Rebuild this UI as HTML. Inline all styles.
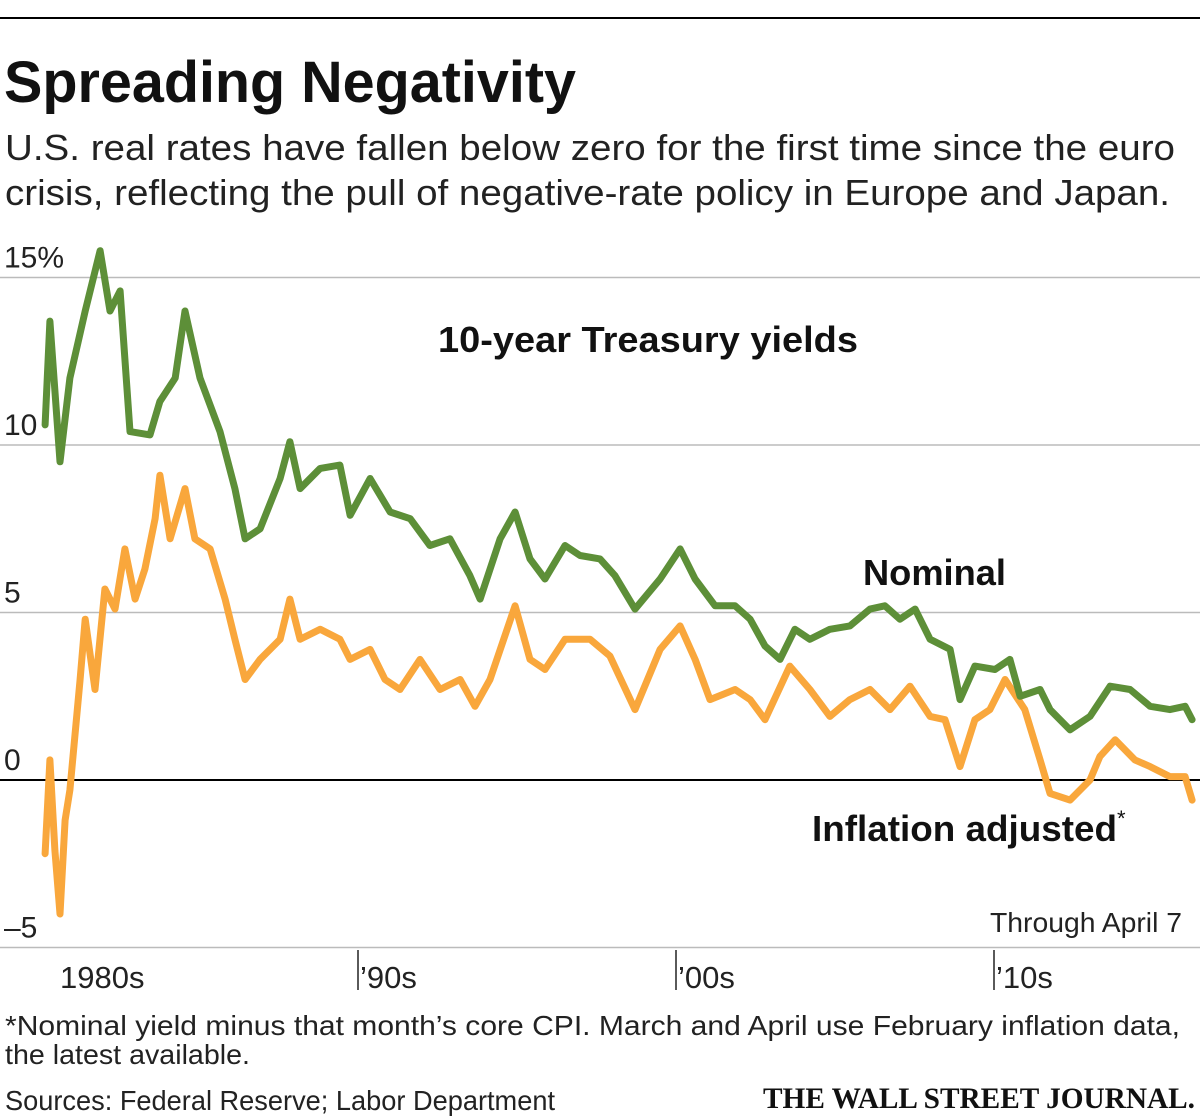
<!DOCTYPE html>
<html><head><meta charset="utf-8"><style>
html,body{margin:0;padding:0;background:#fff;}
svg{display:block;font-family:"Liberation Sans Narrow","Liberation Sans",sans-serif;}
</style></head><body>
<svg id="chart" width="1200" height="1119" viewBox="0 0 1200 1119" xmlns="http://www.w3.org/2000/svg">
<line x1="0" y1="18" x2="1200" y2="18" stroke="#000" stroke-width="2"/>
<text x="4" y="102" font-size="58" font-weight="bold" textLength="572" lengthAdjust="spacingAndGlyphs" fill="#111">Spreading Negativity</text>
<text x="5" y="160" font-size="36" textLength="1170" lengthAdjust="spacingAndGlyphs" fill="#222">U.S. real rates have fallen below zero for the first time since the euro</text>
<text x="5" y="205" font-size="36" textLength="1165" lengthAdjust="spacingAndGlyphs" fill="#222">crisis, reflecting the pull of negative-rate policy in Europe and Japan.</text>
<g id="grid"></g>
<g id="series"></g>
<g id="labels">
<text x="438" y="352" font-size="36" font-weight="bold" textLength="420" lengthAdjust="spacingAndGlyphs" fill="#111">10-year Treasury yields</text>
<text x="863" y="585" font-size="36" font-weight="bold" textLength="143" lengthAdjust="spacingAndGlyphs" fill="#111">Nominal</text>
<text x="812" y="841" font-size="36" font-weight="bold" textLength="305" lengthAdjust="spacingAndGlyphs" fill="#111">Inflation adjusted</text>
<text x="1117" y="826" font-size="22" fill="#111">*</text>
<text x="990" y="932" font-size="28" textLength="192" lengthAdjust="spacingAndGlyphs" fill="#222">Through April 7</text>
</g>
<text x="5" y="1035" font-size="28" textLength="1175" lengthAdjust="spacingAndGlyphs" fill="#222">*Nominal yield minus that month’s core CPI. March and April use February inflation data,</text>
<text x="5" y="1064" font-size="28" textLength="245" lengthAdjust="spacingAndGlyphs" fill="#222">the latest available.</text>
<text x="5" y="1110" font-size="28" textLength="550" lengthAdjust="spacingAndGlyphs" fill="#222">Sources: Federal Reserve; Labor Department</text>
<text x="763" y="1108" font-size="30" font-weight="bold" font-family="Liberation Serif, serif" textLength="432" lengthAdjust="spacingAndGlyphs" fill="#111">THE WALL STREET JOURNAL.</text>
</svg>
<script>
const yTicks=[15,10,5,0,-5];
const yTickLabels=["15%","10","5","0","–5"];
const decadeYears=[1980,1990,2000,2010];
const decadeLabels=["1980s","’90s","’00s","’10s"];
const nomYears=[1980.16,1980.31,1980.63,1980.94,1981.42,1981.89,1982.20,1982.52,1982.83,1983.46,1983.77,1984.25,1984.56,1985.03,1985.66,1986.13,1986.45,1986.92,1987.55,1987.86,1988.18,1988.81,1989.43,1989.75,1990.38,1991.01,1991.64,1992.26,1992.89,1993.52,1993.84,1994.47,1994.94,1995.41,1995.88,1996.51,1996.98,1997.61,1998.08,1998.71,1999.50,2000.13,2000.60,2001.23,2001.86,2002.33,2002.80,2003.27,2003.74,2004.21,2004.84,2005.47,2006.10,2006.57,2007.04,2007.52,2007.99,2008.62,2008.93,2009.40,2010.03,2010.50,2010.82,2011.45,2011.76,2012.39,2013.02,2013.65,2014.28,2014.91,2015.53,2016.01,2016.23];
const nomValues=[10.6,13.7,9.5,12,14,15.8,14,14.6,10.4,10.3,11.3,12,14,12,10.4,8.7,7.2,7.5,9,10.1,8.7,9.3,9.4,7.9,9,8,7.8,7,7.2,6.1,5.4,7.2,8,6.6,6,7,6.7,6.6,6.1,5.1,6,6.9,6,5.2,5.2,4.8,4,3.6,4.5,4.2,4.5,4.6,5.1,5.2,4.8,5.1,4.2,3.9,2.4,3.4,3.3,3.6,2.5,2.7,2.1,1.5,1.9,2.8,2.7,2.2,2.1,2.2,1.8];
const realYears=[1980.16,1980.31,1980.47,1980.63,1980.79,1980.94,1981.26,1981.42,1981.73,1982.04,1982.36,1982.67,1982.99,1983.30,1983.62,1983.77,1984.09,1984.56,1984.87,1985.35,1985.82,1986.13,1986.45,1986.92,1987.55,1987.86,1988.18,1988.81,1989.43,1989.75,1990.38,1990.85,1991.32,1991.95,1992.58,1993.21,1993.68,1994.15,1994.94,1995.41,1995.88,1996.51,1997.30,1997.92,1998.71,1999.50,2000.13,2000.60,2001.07,2001.86,2002.33,2002.80,2003.58,2004.21,2004.84,2005.47,2006.10,2006.73,2007.36,2007.99,2008.46,2008.93,2009.40,2009.87,2010.35,2010.97,2011.45,2011.76,2012.39,2013.02,2013.33,2013.81,2014.43,2014.91,2015.53,2016.01,2016.23];
const realValues=[-2.2,0.6,-2.1,-4,-1.2,-0.3,3,4.8,2.7,5.7,5.1,6.9,5.4,6.3,7.8,9.1,7.2,8.7,7.2,6.9,5.4,4.2,3,3.6,4.2,5.4,4.2,4.5,4.2,3.6,3.9,3,2.7,3.6,2.7,3,2.2,3,5.2,3.6,3.3,4.2,4.2,3.7,2.1,3.9,4.6,3.6,2.4,2.7,2.4,1.8,3.4,2.7,1.9,2.4,2.7,2.1,2.8,1.9,1.8,0.4,1.8,2.1,3,2.1,0.6,-0.4,-0.6,0,0.7,1.2,0.6,0.4,0.1,0.1,-0.6];

const NS="http://www.w3.org/2000/svg";
const xScale=y=>40+(y-1980)*31.8;
const yScale=v=>780-v*33.5;
const grid=document.getElementById('grid');
const series=document.getElementById('series');
function mk(tag,attrs,parent){const e=document.createElementNS(NS,tag);for(const k in attrs)e.setAttribute(k,attrs[k]);parent.appendChild(e);return e;}

yTicks.forEach((t,i)=>{
  const l=mk('line',{x1:0,x2:1200,y1:yScale(t),y2:yScale(t),stroke:t===0?'#000':'#bbb','stroke-width':t===0?2:1.5},grid);
  
  
  const tx=mk('text',{x:4,y:yScale(t)-10,'font-size':30,fill:'#222'},grid);
  tx.textContent=yTickLabels[i];
  
  
});
decadeYears.forEach((d,i)=>{
  const x=xScale(d)+(i===0?18:0);
  if(i>0){
    const tk=mk('line',{x1:x,x2:x,y1:950,y2:990,stroke:'#222','stroke-width':1.5},grid);
    
    
  }
  const tx=mk('text',{x:x+2,y:988,'font-size':31,fill:'#222'},grid);
  tx.textContent=decadeLabels[i];
  
  
});
function line(ys,vs,color,name){
  const d=ys.map((y,i)=>(i?'L':'M')+xScale(y).toFixed(1)+','+yScale(vs[i]).toFixed(1)).join('');
  const p=mk('path',{d:d,fill:'none',stroke:color,'stroke-width':7,'stroke-linejoin':'round','stroke-linecap':'round'},series);
  
  
}
line(realYears,realValues,'#f9a73c','inflation-adjusted-line');
line(nomYears,nomValues,'#5d8f38','nominal-line');
</script>
</body></html>
